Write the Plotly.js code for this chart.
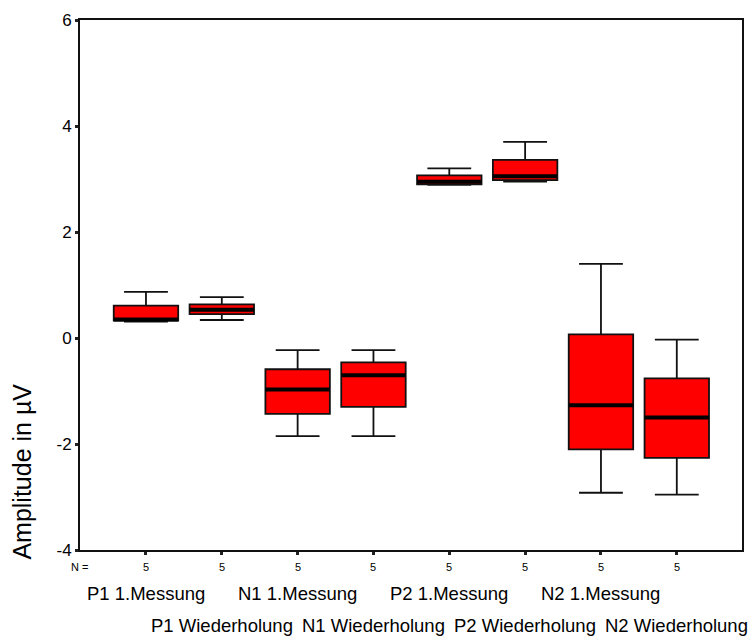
<!DOCTYPE html>
<html>
<head>
<meta charset="utf-8">
<script src="https://cdn.plot.ly/plotly-3.0.1.min.js"></script>
<style>html,body{margin:0;padding:0;background:#fff;}#chart{width:754px;height:637px;}</style>
</head>
<body>
<div id="chart"></div>
<script>
const categories = ["P1 1.Messung","P1 Wiederholung","N1 1.Messung","N1 Wiederholung","P2 1.Messung","P2 Wiederholung","N2 1.Messung","N2 Wiederholung"];
const upperWhisker = [0.87, 0.77, -0.23, -0.23, 3.20, 3.70, 1.40, -0.03];
const q3Values     = [0.61, 0.635, -0.59, -0.46, 3.07, 3.36, 0.07, -0.76];
const medianValues = [0.35, 0.535, -0.97, -0.705, 2.95, 3.05, -1.27, -1.50];
const q1Values     = [0.33, 0.45, -1.43, -1.30, 2.90, 2.98, -2.10, -2.26];
const lowerWhisker = [0.31, 0.34, -1.85, -1.85, 2.89, 2.95, -2.92, -2.955];
const nValues = [5,5,5,5,5,5,5,5];
const yTicks = [-4,-2,0,2,4,6];

const font = "Arial, 'Liberation Sans', sans-serif";
const boxWidth = 0.85;

const trace = {
  type: "box",
  x: categories,
  q1: q1Values,
  median: medianValues,
  q3: q3Values,
  lowerfence: lowerWhisker,
  upperfence: upperWhisker,
  boxpoints: false,
  width: boxWidth,
  fillcolor: "#ff0000",
  line: {color: "#111", width: 1.8},
  whiskerwidth: 0.68,
  hoverinfo: "skip",
  showlegend: false
};

const half = boxWidth / 2;
const shapes = medianValues.map((m, i) => ({
  type: "line", xref: "x", yref: "y",
  x0: i - half, x1: i + half, y0: m, y1: m,
  line: {color: "#000", width: 4}
}));

const annotations = [];
annotations.push({xref: "paper", yref: "paper", x: 0, y: 0, xanchor: "right", yanchor: "middle",
  yshift: -17, xshift: 10, text: "N =", showarrow: false, font: {family: font, size: 11, color: "#000"}});
categories.forEach((c, i) => {
  annotations.push({xref: "x", yref: "paper", x: c, y: 0, yanchor: "middle", yshift: -17,
    text: String(nValues[i]), showarrow: false, font: {family: font, size: 11, color: "#000"}});
  annotations.push({xref: "x", yref: "paper", x: c, y: 0, yanchor: "middle",
    yshift: (i % 2 === 0) ? -43 : -75, text: c, showarrow: false,
    font: {family: font, size: 18.5, color: "#000"}});
});
annotations.push({xref: "paper", yref: "paper", x: 0, y: 0.147, xanchor: "center", yanchor: "middle",
  xshift: -57.5, textangle: -90, text: "Amplitude in µV", showarrow: false,
  font: {family: font, size: 25, color: "#000"}});

const layout = {
  width: 754, height: 637,
  margin: {l: 80, r: 12, t: 20, b: 87},
  paper_bgcolor: "#fff", plot_bgcolor: "#fff",
  xaxis: {
    type: "category", range: [-0.87, 7.86],
    showticklabels: false, ticks: "outside", ticklen: 3, tickwidth: 3, tickcolor: "#222",
    showline: true, linecolor: "#111", linewidth: 2, mirror: true,
    showgrid: false, zeroline: false, fixedrange: true
  },
  yaxis: {
    range: [-4, 6], tickvals: yTicks, ticktext: yTicks.map(String),
    ticks: "outside", ticklen: 3, tickwidth: 3, tickcolor: "#222",
    tickfont: {family: font, size: 17, color: "#000"},
    showline: true, linecolor: "#111", linewidth: 2, mirror: true,
    showgrid: false, zeroline: false, fixedrange: true
  },
  shapes: shapes,
  annotations: annotations
};

Plotly.newPlot("chart", [trace], layout, {staticPlot: true, displayModeBar: false});
</script>
</body>
</html>
